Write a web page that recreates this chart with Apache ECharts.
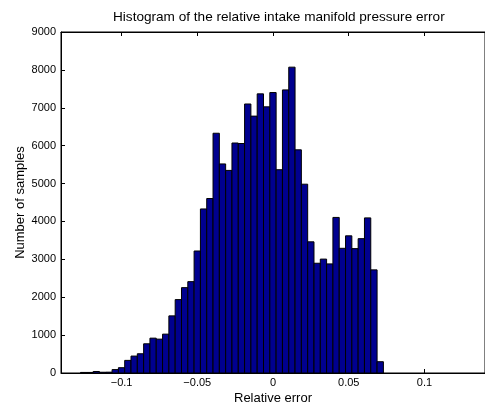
<!DOCTYPE html>
<html>
<head>
<meta charset="utf-8">
<script src="https://cdn.jsdelivr.net/npm/echarts@6/dist/echarts.min.js"></script>
<style>
html,body{margin:0;padding:0;background:#fff;}
#chart{width:485px;height:410px;}
</style>
</head>
<body>
<div id="chart"></div>
<script>
// Histogram data
var binStart = -0.1271;
var binWidth = 0.0041667;
var counts = [15, 15, 40, 20, 22, 90, 140, 333, 447, 508, 771, 920, 894, 1026, 1508, 1937,
  2253, 2411, 3220, 4330, 4605, 6328, 5518, 5347, 6070, 6057, 7100, 6780, 7367, 7025, 7402,
  5365, 7472, 8072, 5890, 4983, 3462, 2897, 3006, 2879, 4106, 3291, 3620, 3283, 3546, 4094,
  2722, 298];
var xTicks = [-0.1, -0.05, 0, 0.05, 0.1];
var yMin = 0, yMax = 9000, yStep = 1000;
var xMin = -0.14, xMax = 0.14;

var titleText = 'Histogram of the relative intake manifold pressure error';
var xName = 'Relative error';
var yName = 'Number of samples';

var FONT = '"Liberation Sans", Arial, Helvetica, sans-serif';

var barData = counts.map(function (c, i) {
  var left = binStart + i * binWidth;
  return [left, left + binWidth, c];
});

function fmtX(v) {
  var s = String(Math.round(v * 1000) / 1000);
  return s.replace('-', '\u2212');
}
function fmtY(v) { return String(v); }

var chart = echarts.init(document.getElementById('chart'), null, {renderer: 'canvas'});
chart.setOption({
  backgroundColor: '#ffffff',
  animation: false,
  title: {
    text: titleText,
    left: 108,
    top: 5,
    textStyle: {fontFamily: FONT, fontSize: 13.6, fontWeight: 'normal', color: '#000'}
  },
  grid: {left: 61, top: 32, width: 434, height: 342, show: true, borderColor: '#000', borderWidth: 1, backgroundColor: 'transparent'},
  xAxis: [{
    type: 'value', min: xMin, max: xMax, position: 'bottom',
    name: xName, nameLocation: 'middle', nameGap: 19, nameMoveOverlap: false,
    nameTextStyle: {fontFamily: FONT, fontSize: 13, color: '#000'},
    axisLine: {show: true, onZero: false, lineStyle: {color: '#000', width: 1}},
    axisTick: {show: true, inside: true, length: 4, customValues: xTicks, lineStyle: {color: '#000'}},
    axisLabel: {show: true, customValues: xTicks, formatter: fmtX, margin: 4, fontFamily: FONT, fontSize: 11, color: '#000'},
    splitLine: {show: false}
  }, {
    type: 'value', min: xMin, max: xMax, position: 'top',
    axisLine: {show: true, onZero: false, lineStyle: {color: '#000', width: 1}},
    axisTick: {show: true, inside: true, length: 4, customValues: xTicks, lineStyle: {color: '#000'}},
    axisLabel: {show: false},
    splitLine: {show: false}
  }],
  yAxis: [{
    type: 'value', min: yMin, max: yMax, interval: yStep, position: 'left',
    name: yName, nameLocation: 'middle', nameGap: 34, nameMoveOverlap: false,
    nameTextStyle: {fontFamily: FONT, fontSize: 13, color: '#000'},
    axisLine: {show: true, onZero: false, lineStyle: {color: '#000', width: 1}},
    axisTick: {show: true, inside: true, length: 4, lineStyle: {color: '#000'}},
    axisLabel: {show: true, margin: 5, formatter: fmtY, fontFamily: FONT, fontSize: 11, color: '#000'},
    splitLine: {show: false}
  }],
  series: [{
    type: 'custom',
    xAxisIndex: 0, yAxisIndex: 0,
    data: barData,
    encode: {x: [0, 1], y: 2},
    renderItem: function (params, api) {
      var p0 = api.coord([api.value(0), api.value(2)]);
      var p1 = api.coord([api.value(1), 0]);
      return {
        type: 'rect',
        shape: {x: p0[0], y: p0[1], width: p1[0] - p0[0], height: p1[1] - p0[1]},
        style: {fill: '#00008F', stroke: '#000000', lineWidth: 1}
      };
    }
  }]
});
</script>
</body>
</html>
